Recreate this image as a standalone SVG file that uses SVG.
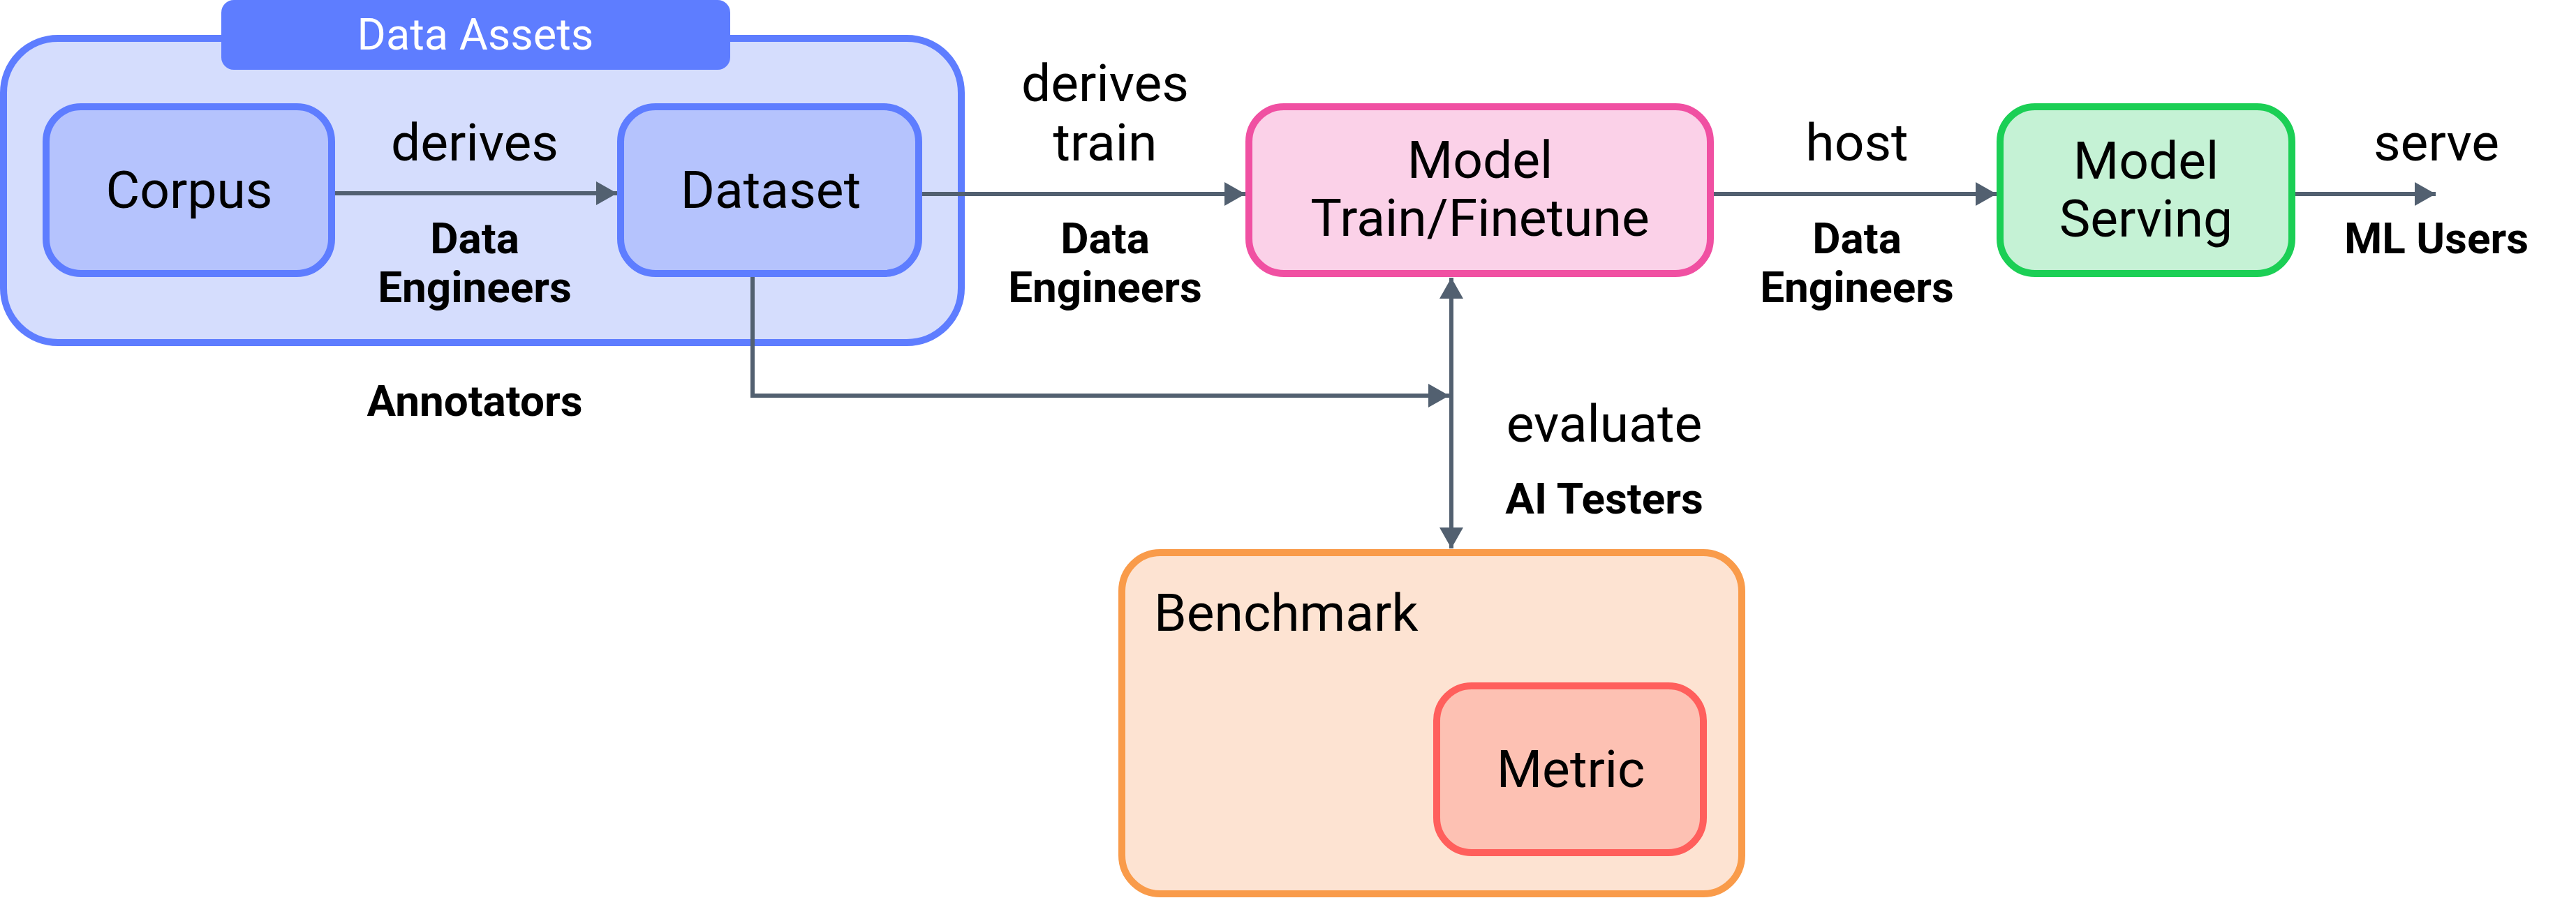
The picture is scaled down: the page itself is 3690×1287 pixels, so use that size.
<svg xmlns="http://www.w3.org/2000/svg" width="3690" height="1287" viewBox="0 0 3690 1287">
<style>
.lbl{font-family:Roboto,"Liberation Sans",sans-serif;font-size:75px;fill:#000;text-anchor:middle}
.role{font-family:Roboto,"Liberation Sans",sans-serif;font-size:62px;font-weight:bold;fill:#000;text-anchor:middle}
.conn{stroke:#526070;stroke-width:6;fill:none}
.blue{fill:#B5C3FD;stroke:#5E7DFF;stroke-width:10}
</style>
<defs>
<marker id="ah" markerUnits="userSpaceOnUse" viewBox="0 0 30 34" refX="30" refY="17" markerWidth="30" markerHeight="34" orient="auto-start-reverse">
<path d="M0,0 L30,17 L0,34 Z" fill="#526070"/>
</marker>
</defs>
<rect width="3690" height="1287" fill="#fff"/>
<g id="data-assets">
<rect x="5" y="55" width="1372" height="436" rx="78" fill="#D5DDFD" stroke="#5E7DFF" stroke-width="10"/>
<rect x="317" y="0" width="729" height="100" rx="18" fill="#5E7DFF"/>
<text x="681" y="71" class="lbl" style="font-size:63px;fill:#fff">Data Assets</text>
</g>
<g id="corpus">
<rect class="blue" x="66" y="153" width="409" height="239" rx="50"/>
<text x="271" y="298" class="lbl">Corpus</text>
</g>
<g id="dataset">
<rect class="blue" x="889" y="153" width="427" height="239" rx="50"/>
<text x="1104" y="298" class="lbl">Dataset</text>
</g>
<g id="model-train">
<rect x="1789" y="153" width="661" height="239" rx="50" fill="#FBD1E8" stroke="#F050A2" stroke-width="10"/>
<text x="2120" y="255" class="lbl">Model</text>
<text x="2120" y="338" class="lbl">Train/Finetune</text>
</g>
<g id="model-serving">
<rect x="2865" y="153" width="418" height="239" rx="50" fill="#C5F2D5" stroke="#1BCF55" stroke-width="10"/>
<text x="3074" y="256" class="lbl">Model</text>
<text x="3074" y="339" class="lbl">Serving</text>
</g>
<g id="benchmark">
<rect x="1607" y="792" width="888" height="489" rx="55" fill="#FDE3D2" stroke="#F99B4A" stroke-width="10"/>
<text x="1653" y="904" class="lbl" style="text-anchor:start">Benchmark</text>
</g>
<g id="metric">
<rect x="2058" y="983" width="382" height="239" rx="50" fill="#FDC1B3" stroke="#FF5F5C" stroke-width="10"/>
<text x="2250" y="1128" class="lbl">Metric</text>
</g>
<g id="connectors">
<line class="conn" x1="480" y1="277" x2="884" y2="277" marker-end="url(#ah)"/>
<line class="conn" x1="1321" y1="278" x2="1784" y2="278" marker-end="url(#ah)"/>
<line class="conn" x1="2455" y1="278" x2="2860" y2="278" marker-end="url(#ah)"/>
<line class="conn" x1="3288" y1="278" x2="3489" y2="278" marker-end="url(#ah)"/>
<polyline class="conn" points="1078,397 1078,567 2076,567" marker-end="url(#ah)"/>
<line class="conn" x1="2079" y1="398" x2="2079" y2="786" marker-start="url(#ah)" marker-end="url(#ah)"/>
<text x="680" y="230" class="lbl">derives</text>
<text x="680" y="363" class="role">Data</text>
<text x="680" y="433" class="role">Engineers</text>
<text x="1583" y="145" class="lbl">derives</text>
<text x="1583" y="230" class="lbl">train</text>
<text x="1583" y="363" class="role">Data</text>
<text x="1583" y="433" class="role">Engineers</text>
<text x="2660" y="230" class="lbl">host</text>
<text x="2660" y="363" class="role">Data</text>
<text x="2660" y="433" class="role">Engineers</text>
<text x="3490" y="230" class="lbl">serve</text>
<text x="3490" y="363" class="role">ML Users</text>
<text x="680" y="596" class="role">Annotators</text>
<text x="2298" y="633" class="lbl">evaluate</text>
<text x="2298" y="736" class="role">AI Testers</text>
</g>
</svg>
